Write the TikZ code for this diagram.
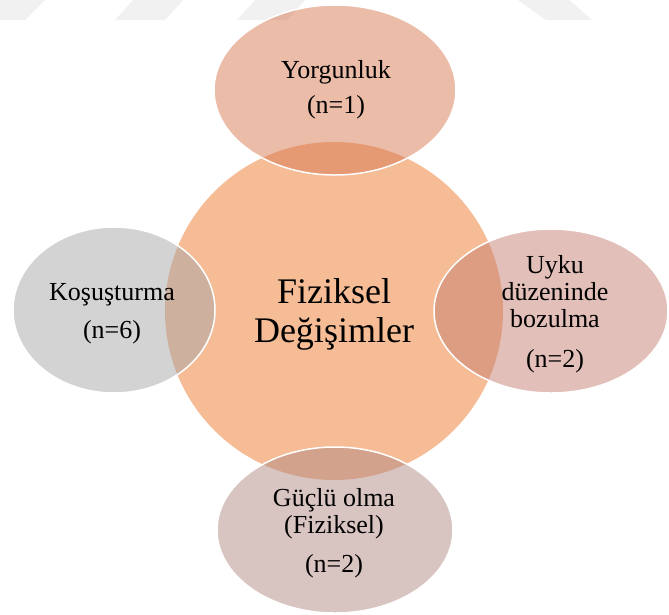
\documentclass[tikz,border=0pt]{standalone}
\usepackage{fontspec}
\setmainfont{Liberation Serif}
\usetikzlibrary{shapes.geometric}

\definecolor{coreorange}{RGB}{245,188,150}
\definecolor{tiredclr}{RGB}{215,121,81}
\definecolor{sleepclr}{RGB}{197,127,113}
\definecolor{strongclr}{RGB}{177,137,131}
\definecolor{rushclr}{RGB}{167,167,167}
\definecolor{markgray}{RGB}{241,241,241}

\tikzset{
  core/.style={circle, inner sep=0pt, minimum size=338pt, fill=coreorange},
  satellite/.style={ellipse, inner sep=0pt, fill=#1, fill opacity=0.5,
                    draw=white, line width=1.5pt},
  small/.style={anchor=base, inner sep=0pt, font=\fontsize{26}{28}\selectfont},
  big/.style={anchor=base, inner sep=0pt, font=\fontsize{36}{38}\selectfont},
  band/.style={fill=markgray, draw=none}
}

\begin{document}
\begin{tikzpicture}[x=1pt, y=-1pt]
  \useasboundingbox (0,0) rectangle (669,614);
  \clip (0,0) rectangle (669,614);

  % faint bands along the top edge
  \fill[band] (0,-2) -- (47,-2) -- (25,20) -- (0,20) -- cycle;
  \fill[band] (135,-2) -- (185,-2) -- (165,20) -- (115,20) -- cycle;
  \fill[band] (257,-2) -- (307,-2) -- (287,20) -- (237,20) -- cycle;
  \fill[band] (515,-2) -- (567,-2) -- (592,20) -- (546,20) -- cycle;

  % central circle
  \node[core] (centre) at (334,311) {};

  % surrounding ellipses
  \node[satellite=tiredclr, minimum width=242pt, minimum height=170pt] (tired) at (335,90) {};
  \node[satellite=sleepclr, minimum width=234pt, minimum height=164pt] (sleep) at (551,311) {};
  \node[satellite=strongclr, minimum width=236pt, minimum height=166pt] (strong) at (335,530) {};
  \node[satellite=rushclr, minimum width=202pt, minimum height=166pt] (rush) at (114,310) {};

  % labels
  \node[big] (c1) at (334,303) {Fiziksel};
  \node[big] (c2) at (334,342) {Değişimler};

  \node[small] (t1) at (336,78) {Yorgunluk};
  \node[small] (t2) at (336,113) {(n=1)};

  \node[small] (s1) at (555,273) {Uyku};
  \node[small] (s2) at (555,300) {düzeninde};
  \node[small] (s3) at (555,327) {bozulma};
  \node[small] (s4) at (555,367) {(n=2)};

  \node[small] (g1) at (334,506) {Güçlü olma};
  \node[small] (g2) at (334,533) {(Fiziksel)};
  \node[small] (g3) at (334,572) {(n=2)};

  \node[small] (r1) at (112,300) {Koşuşturma};
  \node[small] (r2) at (112,338) {(n=6)};
\end{tikzpicture}
\end{document}
